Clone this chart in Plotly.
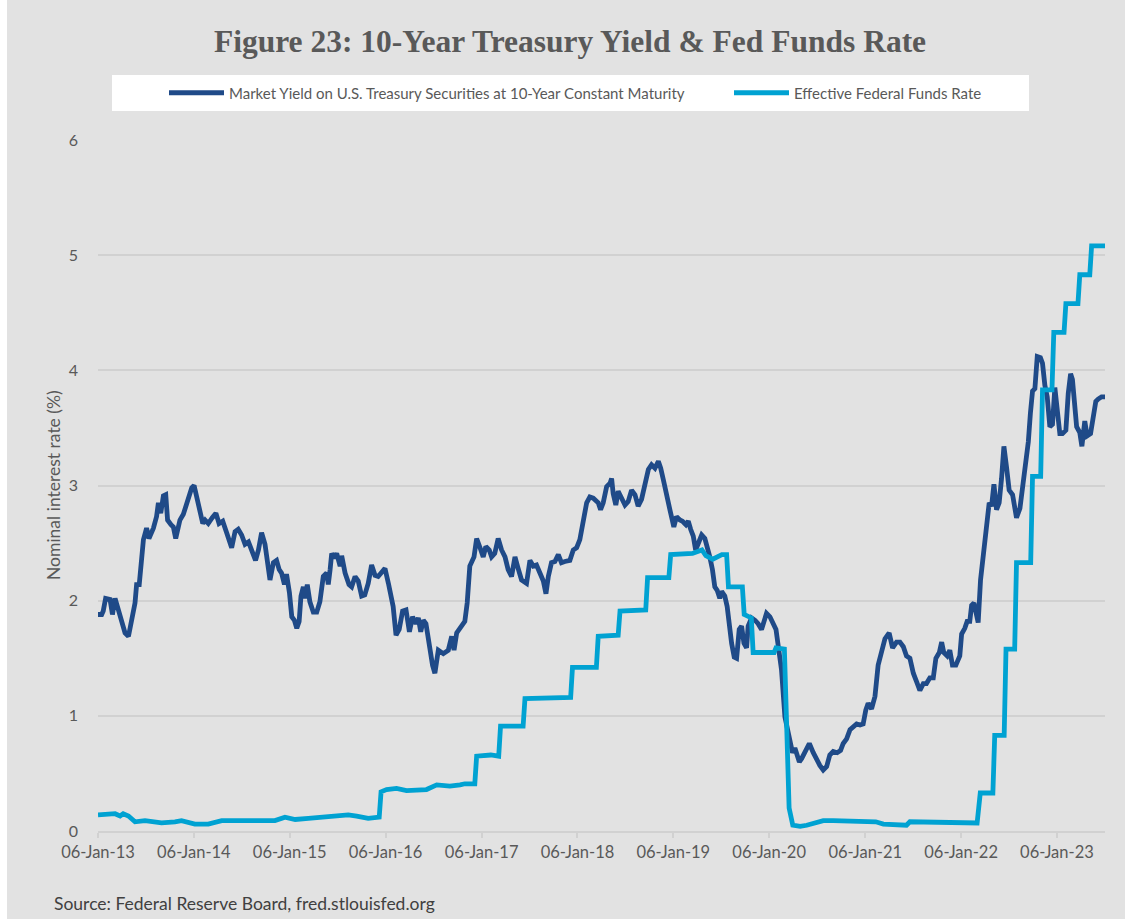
import plotly.graph_objects as go

# ---------------- DATA ----------------
treasury_dates = [
    "2013-01-06", "2013-01-20", "2013-01-26", "2013-02-04", "2013-02-21", "2013-03-02", "2013-03-12", "2013-03-22",
    "2013-04-06", "2013-04-19", "2013-05-02", "2013-05-14", "2013-05-27", "2013-06-02", "2013-06-12", "2013-06-28",
    "2013-07-10", "2013-07-19", "2013-08-05", "2013-08-17", "2013-08-24", "2013-09-02", "2013-09-12", "2013-09-21",
    "2013-09-28", "2013-10-11", "2013-10-20", "2013-10-29", "2013-11-05", "2013-11-14", "2013-11-27", "2013-12-10",
    "2013-12-20", "2013-12-29", "2014-01-07", "2014-01-17", "2014-01-30", "2014-02-09", "2014-02-18", "2014-03-02",
    "2014-03-17", "2014-03-31", "2014-04-12", "2014-04-26", "2014-05-11", "2014-05-30", "2014-06-12", "2014-06-24",
    "2014-07-07", "2014-07-20", "2014-08-02", "2014-08-14", "2014-08-29", "2014-09-09", "2014-09-21", "2014-10-04",
    "2014-10-14", "2014-10-23", "2014-11-05", "2014-11-17", "2014-11-27", "2014-12-06", "2014-12-17", "2014-12-25",
    "2015-01-05", "2015-01-14", "2015-01-24", "2015-02-02", "2015-02-11", "2015-02-18", "2015-02-27", "2015-03-05",
    "2015-03-14", "2015-03-24", "2015-04-06", "2015-04-19", "2015-05-01", "2015-05-14", "2015-05-27", "2015-06-02",
    "2015-06-09", "2015-06-15", "2015-06-25", "2015-07-04", "2015-07-17", "2015-07-23", "2015-08-05", "2015-08-20",
    "2015-08-30", "2015-09-12", "2015-09-24", "2015-10-07", "2015-10-19", "2015-11-01", "2015-11-14", "2015-11-27",
    "2015-12-09", "2015-12-22", "2016-01-04", "2016-01-17", "2016-01-29", "2016-02-04", "2016-02-15", "2016-02-27",
    "2016-03-11", "2016-03-24", "2016-04-06", "2016-04-18", "2016-05-01", "2016-05-10", "2016-05-19", "2016-05-29",
    "2016-06-08", "2016-06-17", "2016-06-26", "2016-07-03", "2016-07-12", "2016-07-19", "2016-07-25", "2016-08-13",
    "2016-09-01", "2016-09-14", "2016-09-23", "2016-10-03", "2016-10-16", "2016-11-03", "2016-11-12", "2016-11-22",
    "2016-12-08", "2016-12-18", "2016-12-31", "2017-01-12", "2017-01-22", "2017-02-04", "2017-02-13", "2017-02-25",
    "2017-03-10", "2017-03-23", "2017-04-05", "2017-04-17", "2017-04-30", "2017-05-13", "2017-05-25", "2017-06-07",
    "2017-06-26", "2017-07-09", "2017-07-22", "2017-08-03", "2017-08-16", "2017-08-29", "2017-09-08", "2017-09-17",
    "2017-09-29", "2017-10-12", "2017-10-25", "2017-11-06", "2017-11-19", "2017-12-08", "2017-12-21", "2018-01-03",
    "2018-01-15", "2018-01-28", "2018-02-10", "2018-02-22", "2018-03-07", "2018-03-26", "2018-04-04", "2018-04-14",
    "2018-04-27", "2018-05-10", "2018-05-16", "2018-05-22", "2018-06-01", "2018-06-10", "2018-06-23", "2018-07-06",
    "2018-07-18", "2018-07-31", "2018-08-13", "2018-08-25", "2018-09-07", "2018-09-20", "2018-10-03", "2018-10-15",
    "2018-10-28", "2018-11-10", "2018-11-19", "2018-11-29", "2018-12-11", "2018-12-24", "2019-01-08", "2019-01-18",
    "2019-01-31", "2019-02-10", "2019-02-23", "2019-03-04", "2019-03-13", "2019-03-23", "2019-04-01", "2019-04-11",
    "2019-04-24", "2019-05-06", "2019-05-15", "2019-05-25", "2019-06-04", "2019-06-13", "2019-06-22", "2019-07-02",
    "2019-07-09", "2019-07-21", "2019-07-30", "2019-08-07", "2019-08-16", "2019-08-26", "2019-09-04", "2019-09-14",
    "2019-09-23", "2019-10-02", "2019-10-12", "2019-10-18", "2019-10-31", "2019-11-13", "2019-11-25", "2019-12-08",
    "2019-12-14", "2019-12-27", "2020-01-09", "2020-01-21", "2020-02-01", "2020-02-10", "2020-02-22", "2020-03-06",
    "2020-03-15", "2020-03-25", "2020-04-04", "2020-04-13", "2020-04-22", "2020-04-30", "2020-05-09", "2020-05-21",
    "2020-06-07", "2020-06-22", "2020-07-05", "2020-07-17", "2020-07-30", "2020-08-12", "2020-08-24", "2020-09-06",
    "2020-09-21", "2020-10-04", "2020-10-14", "2020-10-27", "2020-11-09", "2020-11-21", "2020-12-04", "2020-12-17",
    "2020-12-29", "2021-01-08", "2021-01-17", "2021-01-30", "2021-02-12", "2021-02-24", "2021-03-09", "2021-03-22",
    "2021-04-07", "2021-04-20", "2021-05-05", "2021-05-18", "2021-05-31", "2021-06-12", "2021-06-25", "2021-07-08",
    "2021-07-20", "2021-08-02", "2021-08-15", "2021-08-27", "2021-09-09", "2021-09-22", "2021-10-02", "2021-10-15",
    "2021-10-24", "2021-11-01", "2021-11-14", "2021-11-24", "2021-12-04", "2021-12-17", "2022-01-01", "2022-01-08",
    "2022-01-20", "2022-01-29", "2022-02-08", "2022-02-15", "2022-02-24", "2022-03-03", "2022-03-12", "2022-03-21",
    "2022-03-29", "2022-04-07", "2022-04-16", "2022-04-23", "2022-05-02", "2022-05-11", "2022-05-21", "2022-05-31",
    "2022-06-09", "2022-06-18", "2022-06-28", "2022-07-08", "2022-07-21", "2022-08-05", "2022-08-18", "2022-08-30",
    "2022-09-10", "2022-09-19", "2022-09-27", "2022-10-05", "2022-10-14", "2022-10-23", "2022-11-04", "2022-11-12",
    "2022-11-21", "2022-11-30", "2022-12-10", "2022-12-20", "2022-12-29", "2023-01-07", "2023-01-17", "2023-01-27",
    "2023-02-09", "2023-02-18", "2023-02-27", "2023-03-06", "2023-03-15", "2023-03-22", "2023-04-03", "2023-04-11",
    "2023-04-22", "2023-05-01", "2023-05-14", "2023-05-24", "2023-06-03", "2023-06-12", "2023-06-25", "2023-07-08",
]
treasury_values = [
    1.88, 1.88, 1.91, 2.02, 2.01, 1.88, 2.02, 1.95,
    1.83, 1.72, 1.69, 1.86, 1.98, 2.14, 2.14, 2.53,
    2.63, 2.54, 2.63, 2.73, 2.85, 2.76, 2.91, 2.92,
    2.70, 2.66, 2.64, 2.54, 2.62, 2.70, 2.75, 2.85,
    2.91, 2.98, 3.00, 2.91, 2.76, 2.67, 2.70, 2.67,
    2.72, 2.76, 2.67, 2.69, 2.59, 2.46, 2.60, 2.62,
    2.57, 2.49, 2.51, 2.43, 2.35, 2.44, 2.59, 2.49,
    2.30, 2.18, 2.33, 2.35, 2.27, 2.24, 2.14, 2.23,
    2.07, 1.86, 1.83, 1.76, 1.82, 2.04, 2.12, 2.02,
    2.14, 1.99, 1.90, 1.90, 1.99, 2.21, 2.24, 2.14,
    2.27, 2.41, 2.37, 2.41, 2.30, 2.39, 2.24, 2.14,
    2.12, 2.21, 2.17, 2.04, 2.05, 2.15, 2.31, 2.22,
    2.21, 2.24, 2.28, 2.15, 2.01, 1.95, 1.70, 1.75,
    1.91, 1.92, 1.73, 1.86, 1.80, 1.85, 1.73, 1.83,
    1.80, 1.66, 1.57, 1.44, 1.37, 1.51, 1.57, 1.54,
    1.57, 1.69, 1.57, 1.72, 1.76, 1.82, 1.98, 2.30,
    2.38, 2.54, 2.46, 2.38, 2.47, 2.44, 2.38, 2.41,
    2.54, 2.44, 2.38, 2.27, 2.21, 2.38, 2.28, 2.18,
    2.15, 2.35, 2.30, 2.31, 2.24, 2.17, 2.06, 2.21,
    2.33, 2.34, 2.40, 2.33, 2.34, 2.35, 2.44, 2.46,
    2.53, 2.70, 2.85, 2.90, 2.89, 2.85, 2.79, 2.85,
    2.99, 3.02, 3.06, 2.93, 2.83, 2.95, 2.90, 2.83,
    2.86, 2.96, 2.92, 2.82, 2.88, 3.02, 3.14, 3.18,
    3.15, 3.21, 3.15, 3.05, 2.90, 2.79, 2.64, 2.73,
    2.70, 2.69, 2.66, 2.69, 2.62, 2.56, 2.44, 2.51,
    2.57, 2.54, 2.47, 2.38, 2.27, 2.12, 2.09, 2.02,
    2.08, 2.04, 1.95, 1.75, 1.63, 1.51, 1.50, 1.75,
    1.78, 1.63, 1.59, 1.78, 1.85, 1.83, 1.80, 1.75,
    1.80, 1.89, 1.86, 1.80, 1.75, 1.60, 1.40, 0.99,
    0.88, 0.76, 0.68, 0.72, 0.64, 0.60, 0.63, 0.69,
    0.76, 0.68, 0.62, 0.57, 0.53, 0.56, 0.66, 0.69,
    0.68, 0.70, 0.76, 0.80, 0.88, 0.90, 0.93, 0.92,
    0.93, 1.05, 1.11, 1.06, 1.17, 1.44, 1.55, 1.67,
    1.72, 1.59, 1.64, 1.64, 1.60, 1.52, 1.50, 1.37,
    1.30, 1.22, 1.28, 1.28, 1.33, 1.33, 1.50, 1.55,
    1.64, 1.55, 1.52, 1.57, 1.44, 1.44, 1.52, 1.71,
    1.76, 1.82, 1.82, 1.96, 1.98, 1.91, 1.81, 2.18,
    2.36, 2.48, 2.75, 2.85, 2.82, 3.01, 2.79, 2.85,
    3.06, 3.34, 3.16, 2.96, 2.92, 2.72, 2.80, 3.02,
    3.29, 3.38, 3.63, 3.82, 3.84, 4.12, 4.11, 4.06,
    3.87, 3.77, 3.51, 3.53, 3.85, 3.67, 3.45, 3.45,
    3.48, 3.80, 3.97, 3.92, 3.70, 3.51, 3.46, 3.34,
    3.56, 3.43, 3.45, 3.63, 3.73, 3.75, 3.77, 3.77,
]

fedfunds_dates = [
    "2013-01-06", "2013-02-01", "2013-03-12", "2013-03-31", "2013-04-12", "2013-05-02", "2013-05-27", "2013-07-04",
    "2013-09-05", "2013-10-26", "2013-11-20", "2014-01-10", "2014-03-02", "2014-04-22", "2014-06-24", "2014-11-11",
    "2014-12-19", "2015-01-27", "2015-03-18", "2015-05-08", "2015-06-27", "2015-08-17", "2015-09-18", "2015-11-01",
    "2015-12-13", "2015-12-20", "2016-01-10", "2016-02-17", "2016-03-26", "2016-05-03", "2016-06-10", "2016-07-19",
    "2016-09-07", "2016-10-16", "2016-11-03", "2016-12-11", "2016-12-18", "2017-02-10", "2017-03-12", "2017-03-19",
    "2017-06-13", "2017-06-20", "2017-09-15", "2017-12-11", "2017-12-18", "2018-03-19", "2018-03-26", "2018-06-10",
    "2018-06-17", "2018-09-23", "2018-09-30", "2018-12-20", "2018-12-27", "2019-03-20", "2019-04-25", "2019-05-10",
    "2019-06-05", "2019-06-25", "2019-07-10", "2019-07-28", "2019-08-04", "2019-09-26", "2019-10-03", "2019-10-30",
    "2019-11-06", "2020-01-25", "2020-02-01", "2020-03-04", "2020-03-22", "2020-04-05", "2020-05-03", "2020-05-28",
    "2020-07-05", "2020-07-30", "2020-09-06", "2020-11-09", "2020-12-17", "2021-02-15", "2021-03-16", "2021-05-05",
    "2021-06-12", "2021-06-25", "2021-08-15", "2021-09-03", "2022-03-08", "2022-03-20", "2022-05-07", "2022-05-14",
    "2022-06-19", "2022-06-26", "2022-07-29", "2022-08-05", "2022-09-28", "2022-10-05", "2022-11-05", "2022-11-12",
    "2022-12-18", "2022-12-25", "2023-02-02", "2023-02-09", "2023-03-27", "2023-04-03", "2023-05-11", "2023-05-18",
    "2023-07-08",
]
fedfunds_values = [
    0.14, 0.14, 0.15, 0.13, 0.15, 0.13, 0.08, 0.09,
    0.07, 0.08, 0.09, 0.06, 0.06, 0.09, 0.09, 0.09,
    0.12, 0.10, 0.11, 0.12, 0.12, 0.14, 0.13, 0.11,
    0.12, 0.34, 0.36, 0.37, 0.35, 0.36, 0.36, 0.40,
    0.39, 0.40, 0.41, 0.41, 0.65, 0.66, 0.65, 0.91,
    0.91, 1.15, 1.16, 1.16, 1.42, 1.42, 1.69, 1.70,
    1.91, 1.92, 2.20, 2.20, 2.40, 2.41, 2.44, 2.39,
    2.36, 2.38, 2.40, 2.40, 2.12, 2.12, 1.88, 1.85,
    1.55, 1.55, 1.59, 1.58, 0.20, 0.05, 0.04, 0.05,
    0.08, 0.09, 0.09, 0.09, 0.09, 0.08, 0.06, 0.05,
    0.05, 0.08, 0.08, 0.07, 0.07, 0.33, 0.33, 0.83,
    0.83, 1.58, 1.58, 2.33, 2.33, 3.08, 3.08, 3.83,
    3.83, 4.33, 4.33, 4.58, 4.58, 4.83, 4.83, 5.08,
    5.08,
]

series_names = [
    "Market Yield on U.S. Treasury Securities at 10-Year Constant Maturity",
    "Effective Federal Funds Rate",
]
x_tick_dates = ["2013-01-06", "2014-01-06", "2015-01-06", "2016-01-06", "2017-01-06", "2018-01-06",
                "2019-01-06", "2020-01-06", "2021-01-06", "2022-01-06", "2023-01-06"]
x_tick_labels = ["06-Jan-13", "06-Jan-14", "06-Jan-15", "06-Jan-16", "06-Jan-17", "06-Jan-18",
                 "06-Jan-19", "06-Jan-20", "06-Jan-21", "06-Jan-22", "06-Jan-23"]
y_ticks = [0, 1, 2, 3, 4, 5, 6]

title_text = "Figure 23: 10-Year Treasury Yield &amp; Fed Funds Rate"
y_title = "Nominal interest rate (%)"
source_text = "Source: Federal Reserve Board, fred.stlouisfed.org"

# ---------------- STYLE ----------------
BG = "#e2e2e2"
DARK = "#1f4a88"
CYAN = "#00a2d2"
TXT = "#595959"
GRID = "#d1d1d1"

fig = go.Figure()
fig.add_trace(go.Scatter(x=treasury_dates, y=treasury_values, mode="lines", name=series_names[0],
                         line=dict(color=DARK, width=4.8), legendwidth=495))
fig.add_trace(go.Scatter(x=fedfunds_dates, y=fedfunds_values, mode="lines", name=series_names[1],
                         line=dict(color=CYAN, width=4.8)))

fig.update_layout(
    width=1125, height=919,
    margin=dict(l=98, r=20, t=140, b=88, autoexpand=False),
    paper_bgcolor=BG, plot_bgcolor=BG,
    title=dict(text="<b>" + title_text + "</b>", x=570 / 1125, xanchor="center",
               y=1 - 41 / 919, yanchor="middle",
               font=dict(family="Liberation Serif", size=31.5, color=TXT)),
    showlegend=True,
    legend=dict(orientation="h", x=(168 - 4 - 98) / 1007, xanchor="left", y=(831 - 93) / 691, yanchor="middle",
                bgcolor="rgba(0,0,0,0)", font=dict(family="Lato", size=15, color=TXT),
                itemwidth=55, tracegroupgap=0),
    xaxis=dict(type="date", range=["2013-01-06", "2023-07-08"], tickvals=x_tick_dates, ticktext=x_tick_labels,
               showgrid=False, showline=True, linecolor=GRID, linewidth=2, ticks="outside", ticklen=5,
               tickcolor=GRID, tickwidth=1.5, tickfont=dict(family="Lato", size=16.5, color=TXT),
               zeroline=False, fixedrange=True),
    yaxis=dict(range=[0, 6], tickvals=y_ticks, showgrid=True, gridcolor=GRID, gridwidth=1.5,
               zeroline=False, showline=False, ticks="", ticklabelstandoff=19,
               tickfont=dict(family="Lato", size=16, color=TXT)),
    shapes=[
        dict(type="rect", xref="paper", yref="paper", x0=14 / 1007, x1=931 / 1007,
             y0=(831 - 111) / 691, y1=(831 - 75) / 691, fillcolor="white", line=dict(width=0), layer="below"),
        dict(type="rect", xref="paper", yref="paper", x0=-98 / 1007, x1=-91 / 1007,
             y0=-88 / 691, y1=831 / 691, fillcolor="white", line=dict(width=0), layer="below"),
    ],
    annotations=[
        dict(text=y_title, xref="paper", yref="paper", x=(53 - 98) / 1007, y=(831 - 485) / 691,
             textangle=-90, showarrow=False, xanchor="center", yanchor="middle",
             font=dict(family="Lato", size=17.5, color=TXT)),
        dict(text=source_text, xref="paper", yref="paper", x=(52 - 98) / 1007, y=(831 - 903) / 691,
             showarrow=False, xanchor="left", yanchor="middle",
             font=dict(family="Lato", size=17.5, color="#404040")),
    ],
)

fig.write_html("out.html", config={"displayModeBar": False},
               post_script="document.body.style.margin='0';document.body.style.overflow='hidden';")
